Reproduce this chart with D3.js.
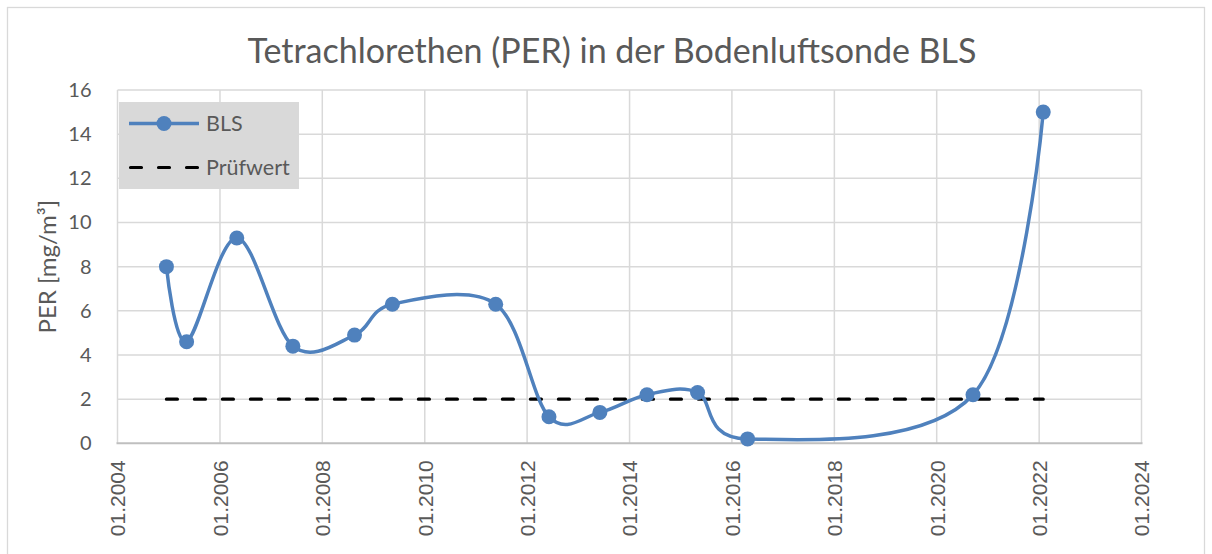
<!DOCTYPE html>
<html>
<head>
<meta charset="utf-8">
<script src="https://cdn.jsdelivr.net/npm/d3@7"></script>
<style>
  html, body { margin: 0; padding: 0; background: #fff; }
  svg { display: block; }
</style>
</head>
<body>
<svg id="chart" width="1212" height="554"></svg>
<script>
// ---- data ----
const chartTitle = "Tetrachlorethen (PER) in der Bodenluftsonde BLS";
const yAxisTitle = "PER [mg/m³]";
const seriesName = "BLS";
const limitName = "Prüfwert";
const sampleDates = ["2004-12-15","2005-05-08","2006-05-01","2007-06-05","2008-08-18","2009-05-15","2011-05-22","2012-06-05","2013-06-03","2014-05-05","2015-05-01","2016-04-22","2020-09-16","2022-01-30"];
const blsValues = [8, 4.6, 9.3, 4.4, 4.9, 6.3, 6.3, 1.2, 1.4, 2.2, 2.3, 0.2, 2.2, 15];
const pruefwert = 2;
const xTickYears = [2004, 2006, 2008, 2010, 2012, 2014, 2016, 2018, 2020, 2022, 2024];
const yTicks = [0, 2, 4, 6, 8, 10, 12, 14, 16];

// ---- layout ----
const svg = d3.select("#chart");
const plot = { left: 117.5, right: 1141.5, top: 90, bottom: 443.3 };
const blue = "#4F81BD";
const textCol = "#595959";
const gridCol = "#d9d9d9";

const parse = d3.timeParse("%Y-%m-%d");
const points = sampleDates.map((d, i) => ({ date: parse(d), value: blsValues[i] }));

const x = d3.scaleTime()
  .domain([new Date(xTickYears[0], 0, 1), new Date(xTickYears[xTickYears.length - 1], 0, 1)])
  .range([plot.left, plot.right]);
const y = d3.scaleLinear().domain([0, 16]).range([plot.bottom, plot.top]);

// outer border
svg.append("rect").attr("x", 7.5).attr("y", 7.5).attr("width", 1197).attr("height", 570)
  .attr("fill", "#fff").attr("stroke", gridCol).attr("stroke-width", 1.3);

// title
svg.append("text").attr("x", 612).attr("y", 63).attr("text-anchor", "middle")
  .attr("font-family", "Lato, 'Open Sans', sans-serif").attr("font-size", 34)
  .attr("fill", textCol).text(chartTitle);

// grid lines
const xTickDates = xTickYears.map(yr => new Date(yr, 0, 1));
svg.append("g").selectAll("line").data(yTicks.filter(v => v > 0)).join("line")
  .attr("x1", plot.left).attr("x2", plot.right)
  .attr("y1", d => y(d)).attr("y2", d => y(d))
  .attr("stroke", gridCol).attr("stroke-width", 1.5);
svg.append("g").selectAll("line").data(xTickDates).join("line")
  .attr("x1", d => x(d)).attr("x2", d => x(d))
  .attr("y1", plot.top).attr("y2", plot.bottom)
  .attr("stroke", gridCol).attr("stroke-width", 1.5);

// bottom axis line
svg.append("line").attr("x1", plot.left - 1).attr("x2", plot.right + 1)
  .attr("y1", plot.bottom).attr("y2", plot.bottom)
  .attr("stroke", "#bfbfbf").attr("stroke-width", 2);

// y tick labels
const yAxis = d3.axisLeft(y).tickValues(yTicks).tickSize(0).tickPadding(26);
const gy = svg.append("g").attr("transform", `translate(${plot.left},0)`).call(yAxis);
gy.select(".domain").remove();
gy.selectAll("text").attr("font-family", "Lato, 'Open Sans', sans-serif").attr("font-size", 20)
  .attr("fill", textCol);

// x tick labels
const xAxis = d3.axisBottom(x).tickValues(xTickDates).tickSize(0)
  .tickFormat(d3.timeFormat("%m.%Y"));
const gx = svg.append("g").attr("transform", `translate(0,${plot.bottom})`).call(xAxis);
gx.select(".domain").remove();
gx.selectAll("text")
  .attr("font-family", "'Liberation Sans', Arial, sans-serif").attr("font-size", 21)
  .attr("fill", textCol)
  .attr("text-anchor", "end")
  .attr("transform", "rotate(-90)")
  .attr("x", -17).attr("y", 0).attr("dy", "0.35em");

// y axis title
svg.append("text")
  .attr("transform", `translate(56,${(plot.top + plot.bottom) / 2}) rotate(-90)`)
  .attr("text-anchor", "middle")
  .attr("font-family", "Lato, 'Open Sans', sans-serif").attr("font-size", 24)
  .attr("fill", textCol).text(yAxisTitle);

// Prüfwert dashed line
const limitLine = [{ date: points[0].date, value: pruefwert }, { date: points[points.length - 1].date, value: pruefwert }];
const lineGen = d3.line().x(d => x(d.date)).y(d => y(d.value));
svg.append("path").attr("d", lineGen(limitLine))
  .attr("fill", "none").attr("stroke", "#000").attr("stroke-width", 3.2)
  .attr("stroke-dasharray", "11,17").attr("stroke-linecap", "round");

// BLS smoothed line
const smooth = d3.line().x(d => x(d.date)).y(d => y(d.value)).curve(d3.curveCatmullRom.alpha(0));
svg.append("path").attr("d", smooth(points))
  .attr("fill", "none").attr("stroke", blue).attr("stroke-width", 3.5)
  .attr("stroke-linejoin", "round");

svg.append("g").selectAll("circle").data(points).join("circle")
  .attr("cx", d => x(d.date)).attr("cy", d => y(d.value)).attr("r", 7.5)
  .attr("fill", blue);

// legend
const lg = svg.append("g");
lg.append("rect").attr("x", 119).attr("y", 102).attr("width", 180).attr("height", 87).attr("fill", "#d9d9d9");
lg.append("line").attr("x1", 129).attr("x2", 199).attr("y1", 123.5).attr("y2", 123.5)
  .attr("stroke", blue).attr("stroke-width", 3.5);
lg.append("circle").attr("cx", 164).attr("cy", 123.5).attr("r", 7.5).attr("fill", blue);
lg.append("text").attr("x", 206).attr("y", 123.5).attr("dy", "0.35em")
  .attr("font-family", "Lato, 'Open Sans', sans-serif").attr("font-size", 21.5)
  .attr("fill", textCol).text(seriesName);
lg.append("line").attr("x1", 130.5).attr("x2", 199).attr("y1", 167.5).attr("y2", 167.5)
  .attr("stroke", "#000").attr("stroke-width", 3.2)
  .attr("stroke-dasharray", "11,17").attr("stroke-linecap", "round");
lg.append("text").attr("x", 206).attr("y", 167.5).attr("dy", "0.35em")
  .attr("font-family", "Lato, 'Open Sans', sans-serif").attr("font-size", 21.5)
  .attr("fill", textCol).text(limitName);
</script>
</body>
</html>
